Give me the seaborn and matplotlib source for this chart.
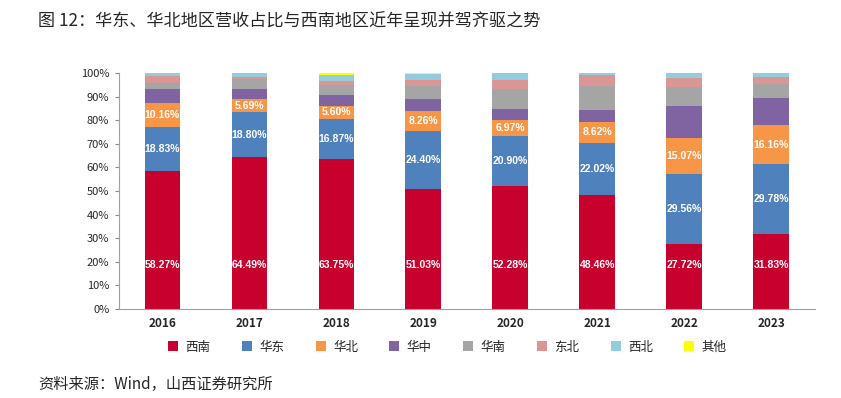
import matplotlib
matplotlib.use('Agg')
import matplotlib.pyplot as plt
from matplotlib.ticker import PercentFormatter
import numpy as np
import seaborn as sns

# region share of revenue by year (%)
years = ['2016', '2017', '2018', '2019', '2020', '2021', '2022', '2023']
region_names = ['西南', '华东', '华北', '华中', '华南', '东北', '西北', '其他']
xinan = [58.27, 64.49, 63.75, 51.03, 52.28, 48.46, 27.72, 31.83]
huadong = [18.83, 18.80, 16.87, 24.40, 20.90, 22.02, 29.56, 29.78]
huabei = [10.16, 5.69, 5.60, 8.26, 6.97, 8.62, 15.07, 16.16]
huazhong = [5.9, 4.2, 4.4, 5.2, 4.5, 5.4, 13.7, 11.6]
huanan = [2.8, 4.2, 4.5, 5.4, 8.5, 10.0, 8.1, 6.1]
dongbei = [2.8, 1.1, 1.4, 2.8, 3.8, 4.5, 3.9, 2.8]
xibei = [1.24, 1.52, 2.48, 2.61, 3.05, 1.0, 1.95, 1.73]
qita = [0.0, 0.0, 1.0, 0.3, 0.0, 0.0, 0.0, 0.0]

series = [xinan, huadong, huabei, huazhong, huanan, dongbei, xibei, qita]
colors = ['#C8002D', '#4F81BD', '#F79646', '#8064A2', '#A5A5A5',
          '#DA9694', '#92CDDD', '#FFFF00']

sns.set_style('white')
plt.rcParams['font.family'] = ['Noto Sans CJK SC', 'DejaVu Sans']

fig = plt.figure(figsize=(8.41, 3.98), dpi=100)
ax = fig.add_axes([0.1415, 0.2236, 0.827, 0.593])

bottom = np.zeros(len(years))
for name, vals, col in zip(region_names, series, colors):
    frac = np.array(vals) / 100.0
    sns.barplot(x=years, y=frac, bottom=bottom, color=col, saturation=1,
                width=0.41, ax=ax, label=name, linewidth=0)
    bottom = bottom + frac
handles, labels = ax.get_legend_handles_labels()
if ax.get_legend() is not None:
    ax.get_legend().remove()

# data labels for the three largest regions
starts = np.zeros(len(years))
for k, vals in enumerate(series[:3]):
    for i, v in enumerate(vals):
        if k == 0:
            y = 0.185
        else:
            y = starts[i] + v / 200.0
        ax.text(i, y, f'{v:.2f}%', ha='center', va='center', color='white',
                fontsize=7.5, fontweight='bold', family='Liberation Sans')
    starts = starts + np.array(vals) / 100.0

ax.set_ylim(0, 1)
ax.set_xlim(-0.5, len(years) - 0.5)
ax.set_yticks(np.arange(0, 1.01, 0.1))
ax.yaxis.set_major_formatter(PercentFormatter(1.0, decimals=0))
ax.set_xlabel('')
ax.set_ylabel('')
for lbl in ax.get_xticklabels():
    lbl.set_fontweight('bold')
ax.tick_params(axis='x', labelsize=8.5, length=0, pad=6)
ax.tick_params(axis='y', labelsize=8, length=3, color='#888888', left=True, pad=4)
for s in ['top', 'right']:
    ax.spines[s].set_visible(False)
for s in ['left', 'bottom']:
    ax.spines[s].set_color('#A0A0A0')
    ax.spines[s].set_linewidth(0.8)

fig.legend(handles, labels, loc='center', bbox_to_anchor=(0.532, 0.128),
           ncol=8, frameon=False, fontsize=9, handlelength=0.8,
           handleheight=0.8, columnspacing=2.5, handletextpad=0.6)

fig.text(0.045, 0.945, '图 12：华东、华北地区营收占比与西南地区近年呈现并驾齐驱之势',
         fontsize=12.3, va='center', ha='left')
fig.text(0.045, 0.033, '资料来源：Wind，山西证券研究所', fontsize=11,
         va='center', ha='left')

fig.savefig('out.png', dpi=100)
